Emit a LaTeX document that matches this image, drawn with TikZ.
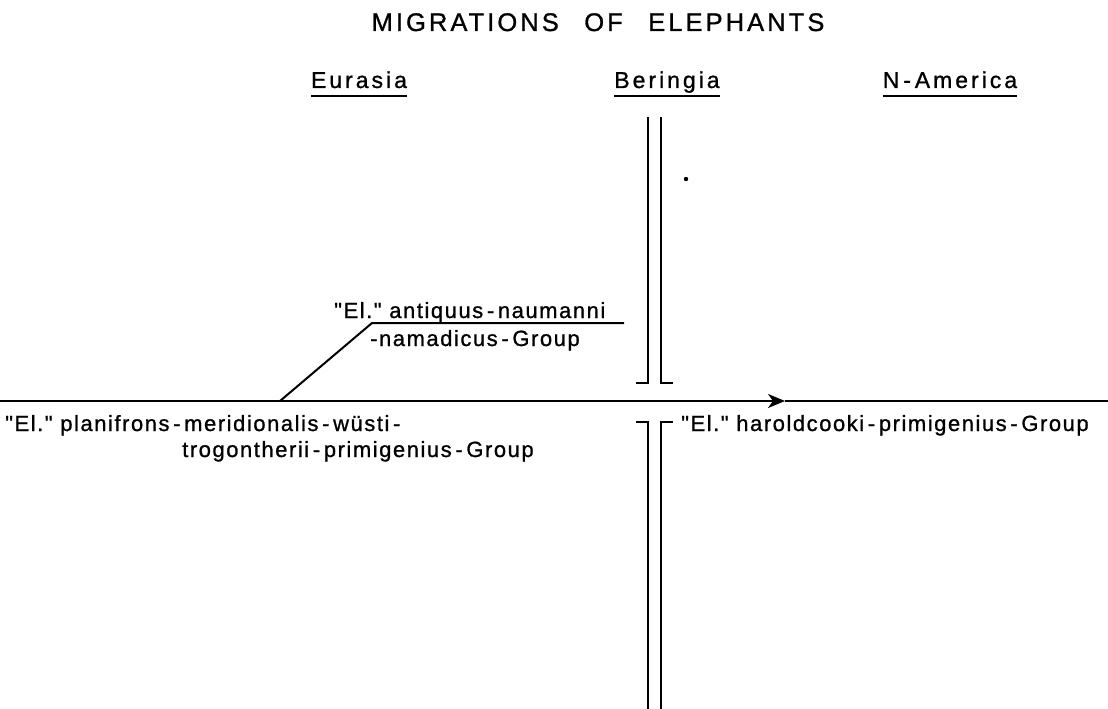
\documentclass[tikz,border=0pt]{standalone}
\usepackage{fontspec}
\setmainfont{Liberation Sans}
\newfontfamily\titlefont[LetterSpace=12, FakeBold=1]{Liberation Sans}
\newfontfamily\headfont[LetterSpace=13, FakeBold=1]{Liberation Sans}
\newfontfamily\taxonfont[LetterSpace=7, FakeBold=1]{Liberation Sans}
\usetikzlibrary{arrows.meta,positioning}

\begin{document}
\begin{tikzpicture}[x=1pt, y=-1pt,
  taxon/.style={font=\fontsize{22}{26}\selectfont\taxonfont, inner sep=0pt, anchor=base west},
  region/.style={font=\fontsize{23}{27}\selectfont\headfont, inner sep=0pt, anchor=base},
  barrier/.style={line width=2pt},
  route/.style={line width=2pt}
]
  \useasboundingbox (0,0) rectangle (1108,709);
  % title
  \node[font=\fontsize{25.5}{30}\selectfont\titlefont, inner sep=0pt, anchor=base] (title) at (598,31) {MIGRATIONS\quad OF\quad ELEPHANTS};
  % regions
  \coordinate (ul) at (0,96);
  \node[region] (eurasia) at (359,88) {Eurasia};
  \node[region] (beringia) at (667,88) {Beringia};
  \node[region] (namerica) at (950,88) {N\,-\,America};
  \foreach \r in {eurasia,beringia,namerica}
    \draw[line width=1.5pt] (\r.west |- ul) -- (\r.east |- ul);
  % Beringia barrier
  \coordinate (bl top) at (648,117);
  \coordinate (br top) at (661,117);
  \coordinate (bl up) at (648,383);
  \coordinate (br up) at (661,383);
  \coordinate (bl low) at (648,422);
  \coordinate (br low) at (661,422);
  \draw[barrier] (bl top) -- (bl up) -- ++(-12,0);
  \draw[barrier] (br top) -- (br up) -- ++(12,0);
  \draw[barrier] (bl low) ++(-12,0) -- (bl low) -- (648,709);
  \draw[barrier] (br low) ++(12,0) -- (br low) -- (661,709);
  \fill (686,179) circle (2.2pt);
  % migration route
  \coordinate (west end) at (0,401);
  \coordinate (tip) at (785,401);
  \coordinate (east end) at (1108,401);
  \coordinate (fork) at (280,401);
  \coordinate (bend) at (372,323);
  \draw[route, -{Stealth[length=17pt, width=14pt, inset=5pt]}] (west end) -- (tip);
  \draw[route] (tip) -- (east end);
  \draw[route] (fork) -- (bend) -- (624,323);
  % taxa
  \node[taxon] (antiquus) at (334,318) {"El." antiquus\,-\,naumanni};
  \node[taxon] (namadicus) at (370,346) {-namadicus\,-\,Group};
  \node[taxon] (planifrons) at (5,431) {"El." planifrons\,-\,meridionalis\,-\,wüsti\,-};
  \node[taxon] (trogontherii) at (182,457) {trogontherii\,-\,primigenius\,-\,Group};
  \node[taxon] (haroldcooki) at (681,431) {"El." haroldcooki\,-\,primigenius\,-\,Group};
\end{tikzpicture}
\end{document}
